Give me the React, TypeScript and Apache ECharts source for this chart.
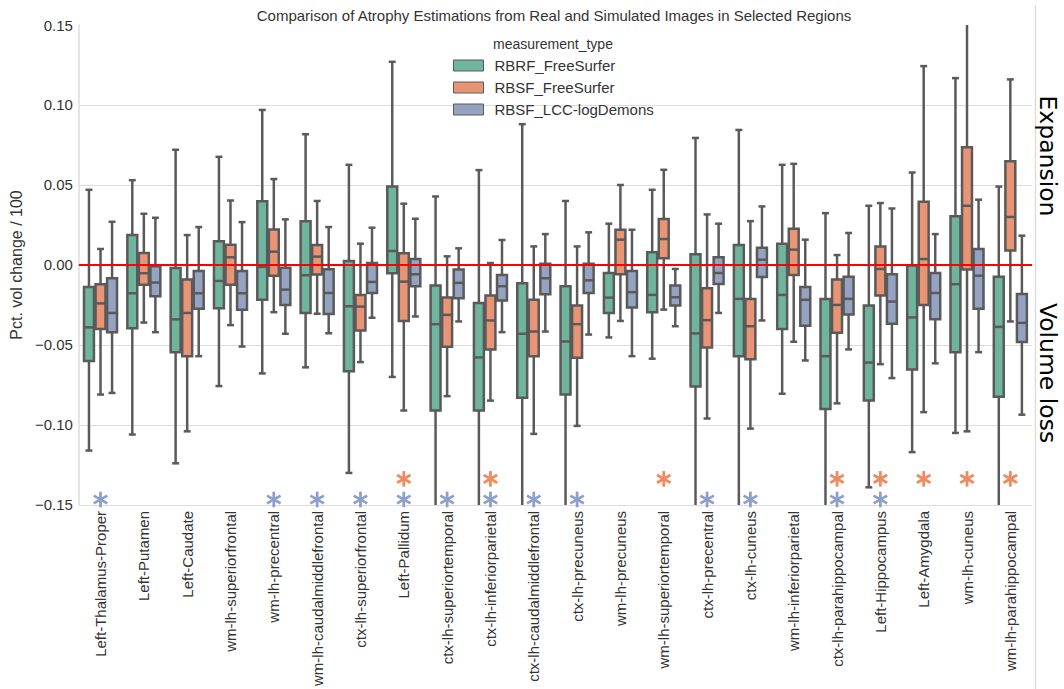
import React, { useEffect, useRef } from "react";
import * as echarts from "echarts";

const categories = [
  "Left-Thalamus-Proper", "Left-Putamen", "Left-Caudate", "wm-lh-superiorfrontal",
  "wm-lh-precentral", "wm-lh-caudalmiddlefrontal", "ctx-lh-superiorfrontal", "Left-Pallidum",
  "ctx-lh-superiortemporal", "ctx-lh-inferiorparietal", "ctx-lh-caudalmiddlefrontal", "ctx-lh-precuneus",
  "wm-lh-precuneus", "wm-lh-superiortemporal", "ctx-lh-precentral", "ctx-lh-cuneus",
  "wm-lh-inferiorparietal", "ctx-lh-parahippocampal", "Left-Hippocampus", "Left-Amygdala",
  "wm-lh-cuneus", "wm-lh-parahippocampal",
];

const seriesNames = ["RBRF_FreeSurfer", "RBSF_FreeSurfer", "RBSF_LCC-logDemons"];

// [whisker low, Q1, median, Q3, whisker high]
const rbrfFreeSurfer: number[][] = [
  [-0.116, -0.060, -0.039, -0.0137, 0.047],
  [-0.106, -0.0395, -0.0177, 0.0187, 0.053],
  [-0.124, -0.0545, -0.034, -0.0019, 0.072],
  [-0.0757, -0.027, -0.010, 0.0148, 0.0676],
  [-0.0678, -0.0218, -0.0012, 0.0399, 0.0969],
  [-0.064, -0.030, -0.0064, 0.0274, 0.0817],
  [-0.130, -0.0665, -0.0258, 0.0025, 0.0626],
  [-0.070, -0.0052, 0.0087, 0.049, 0.127],
  [-0.16, -0.0909, -0.037, -0.0129, 0.0428],
  [-0.16, -0.0909, -0.0578, -0.0237, 0.0593],
  [-0.16, -0.083, -0.043, -0.0114, 0.088],
  [-0.16, -0.081, -0.0478, -0.0133, 0.040],
  [-0.0453, -0.030, -0.0204, -0.005, 0.0258],
  [-0.0586, -0.0295, -0.0187, 0.0079, 0.047],
  [-0.16, -0.076, -0.0428, 0.0067, 0.0794],
  [-0.16, -0.057, -0.0212, 0.0125, 0.0844],
  [-0.0805, -0.040, -0.0187, 0.0133, 0.0626],
  [-0.16, -0.090, -0.057, -0.0212, 0.0324],
  [-0.139, -0.0848, -0.061, -0.0254, 0.037],
  [-0.117, -0.0653, -0.0328, -0.0004, 0.0578],
  [-0.105, -0.0545, -0.012, 0.0304, 0.1168],
  [-0.16, -0.0823, -0.0387, -0.0073, 0.049],
];

const rbsfFreeSurfer: number[][] = [
  [-0.081, -0.040, -0.024, -0.012, 0.010],
  [-0.036, -0.0123, -0.0052, 0.0075, 0.032],
  [-0.104, -0.057, -0.030, -0.0091, 0.0187],
  [-0.0376, -0.0123, 0.0048, 0.0127, 0.0403],
  [-0.0295, -0.0067, 0.0083, 0.0222, 0.0537],
  [-0.0305, -0.006, 0.0052, 0.0125, 0.040],
  [-0.0607, -0.041, -0.026, -0.0187, 0.0133],
  [-0.091, -0.035, -0.0104, 0.0073, 0.0383],
  [-0.082, -0.0511, -0.0312, -0.0204, 0.0054],
  [-0.0848, -0.0528, -0.0347, -0.0191, 0.0012],
  [-0.1056, -0.057, -0.0416, -0.0218, 0.0116],
  [-0.1006, -0.058, -0.037, -0.0254, 0.0116],
  [-0.035, -0.0058, 0.0158, 0.022, 0.050],
  [-0.0279, 0.0042, 0.0162, 0.0287, 0.0595],
  [-0.096, -0.0516, -0.0345, -0.0146, 0.0316],
  [-0.1023, -0.059, -0.0383, -0.0212, 0.0274],
  [-0.048, -0.0062, 0.0096, 0.0227, 0.0632],
  [-0.0865, -0.0424, -0.025, -0.0091, 0.0062],
  [-0.062, -0.0191, -0.0025, 0.0116, 0.0387],
  [-0.092, -0.025, 0.0037, 0.0395, 0.1243],
  [-0.104, -0.0029, 0.037, 0.0736, 0.16],
  [-0.0353, 0.0091, 0.030, 0.0649, 0.116],
];

const rbsfLogDemons: number[][] = [
  [-0.080, -0.042, -0.030, -0.0083, 0.027],
  [-0.042, -0.0196, -0.011, -0.0008, 0.0295],
  [-0.057, -0.0274, -0.0177, -0.0037, 0.0237],
  [-0.051, -0.028, -0.0177, -0.0037, 0.0268],
  [-0.043, -0.025, -0.0154, -0.0017, 0.0285],
  [-0.0427, -0.0307, -0.0175, -0.0027, 0.0237],
  [-0.033, -0.0175, -0.0106, 0.0012, 0.0233],
  [-0.0322, -0.0133, -0.0058, 0.0037, 0.0289],
  [-0.0353, -0.0208, -0.0112, -0.0029, 0.0104],
  [-0.042, -0.0222, -0.0133, -0.0062, 0.0156],
  [-0.0416, -0.0183, -0.0083, 0.0008, 0.0193],
  [-0.0435, -0.0175, -0.0096, 0.0008, 0.0204],
  [-0.057, -0.0266, -0.017, -0.0037, 0.022],
  [-0.0383, -0.0254, -0.0202, -0.0129, -0.0025],
  [-0.030, -0.0119, -0.005, 0.0048, 0.0258],
  [-0.0347, -0.0075, 0.0033, 0.0108, 0.0366],
  [-0.0597, -0.038, -0.0218, -0.0137, 0.0158],
  [-0.0528, -0.031, -0.0212, -0.0073, 0.020],
  [-0.0707, -0.0368, -0.0229, -0.0058, 0.0353],
  [-0.0615, -0.034, -0.0175, -0.005, 0.0193],
  [-0.0545, -0.0274, -0.0067, 0.010, 0.0408],
  [-0.0936, -0.0482, -0.0362, -0.0181, 0.0183],
];

// regions marked with a significance asterisk
const sigFreeSurfer = [
  "Left-Pallidum", "ctx-lh-inferiorparietal", "wm-lh-superiortemporal", "ctx-lh-parahippocampal",
  "Left-Hippocampus", "Left-Amygdala", "wm-lh-cuneus", "wm-lh-parahippocampal",
];
const sigLogDemons = [
  "Left-Thalamus-Proper", "wm-lh-precentral", "wm-lh-caudalmiddlefrontal", "ctx-lh-superiorfrontal",
  "Left-Pallidum", "ctx-lh-superiortemporal", "ctx-lh-inferiorparietal", "ctx-lh-caudalmiddlefrontal",
  "ctx-lh-precuneus", "ctx-lh-precentral", "ctx-lh-cuneus", "ctx-lh-parahippocampal", "Left-Hippocampus",
];
const starLevelFreeSurfer = -0.1337;
const starLevelLogDemons = -0.1466;

const yMin = -0.15;
const yMax = 0.15;
const yStep = 0.05;

const BOX_COLORS = ["#6fb59e", "#e99575", "#95a3c3"];
const STAR_FS = "#f08a60";
const STAR_LCC = "#8da0cb";
const EDGE = "#5a5a5a";
const FONT = "'Liberation Sans', Arial, sans-serif";

const boxRenderer = (hue: number, color: string) => (_params: any, api: any) => {
  const ci = api.value(0);
  const low = api.value(1), q1 = api.value(2), med = api.value(3), q3 = api.value(4), high = api.value(5);
  const band = api.size([1, 0])[0];
  const hueW = (band * 0.8) / 3;
  const cx = api.coord([ci, 0])[0] + (hue - 1) * hueW;
  const y = (v: number) => api.coord([ci, v])[1];
  const bw = hueW * 0.86;
  const cap = hueW * 0.3;
  const ls = { stroke: EDGE, lineWidth: 2.5 };
  return {
    type: "group",
    children: [
      { type: "line", shape: { x1: cx, y1: y(high), x2: cx, y2: y(q3) }, style: ls },
      { type: "line", shape: { x1: cx, y1: y(q1), x2: cx, y2: y(low) }, style: ls },
      { type: "line", shape: { x1: cx - cap, y1: y(high), x2: cx + cap, y2: y(high) }, style: ls },
      { type: "line", shape: { x1: cx - cap, y1: y(low), x2: cx + cap, y2: y(low) }, style: ls },
      {
        type: "rect",
        shape: { x: cx - bw / 2, y: y(q3), width: bw, height: y(q1) - y(q3) },
        style: { fill: color, stroke: EDGE, lineWidth: 2.5 },
      },
      { type: "line", shape: { x1: cx - bw / 2, y1: y(med), x2: cx + bw / 2, y2: y(med) }, style: ls },
    ],
  };
};

const starRenderer = (color: string) => (_params: any, api: any) => {
  const p = api.coord([api.value(0), api.value(1)]);
  const r = 7.8;
  const st = { stroke: color, lineWidth: 2.8 };
  return {
    type: "group",
    children: [0, 60, 120].map((a) => {
      const t = (a * Math.PI) / 180;
      const dx = r * Math.sin(t);
      const dy = r * Math.cos(t);
      return { type: "line", shape: { x1: p[0] - dx, y1: p[1] - dy, x2: p[0] + dx, y2: p[1] + dy }, style: st };
    }),
  };
};

const fmt = (v: number) => {
  const s = Math.abs(v) < 1e-9 ? "0.00" : v.toFixed(2);
  return s.replace("-", "\u2212");
};

export default function App() {
  const ref = useRef<HTMLDivElement>(null);
  useEffect(() => {
    if (!ref.current) return;
    const chart = echarts.init(ref.current, undefined, { renderer: "svg" });
    const allSeries = [rbrfFreeSurfer, rbsfFreeSurfer, rbsfLogDemons];
    const boxSeries = allSeries.map((rows, hue) => ({
      type: "custom",
      name: seriesNames[hue],
      clip: true,
      itemStyle: { color: BOX_COLORS[hue] },
      encode: { x: 0, y: [1, 2, 3, 4, 5] },
      data: rows.map((r, i) => [i, ...r]),
      renderItem: boxRenderer(hue, BOX_COLORS[hue]),
      z: 2,
      ...(hue === 2
        ? {
            markLine: {
              silent: true,
              symbol: "none",
              z: 10,
              label: { show: false },
              lineStyle: { color: "#ff0000", width: 2, type: "solid" },
              data: [{ yAxis: 0 }],
            },
          }
        : {}),
    }));
    const starSeries = [
      { names: sigFreeSurfer, level: starLevelFreeSurfer, color: STAR_FS },
      { names: sigLogDemons, level: starLevelLogDemons, color: STAR_LCC },
    ].map((s) => ({
      type: "custom",
      name: "sig",
      clip: false,
      z: 4,
      encode: { x: 0, y: 1 },
      data: s.names.map((n) => [categories.indexOf(n), s.level]),
      renderItem: starRenderer(s.color),
    }));

    chart.setOption({
      animation: false,
      backgroundColor: "#ffffff",
      textStyle: { fontFamily: FONT },
      title: [
        {
          text: "Comparison of Atrophy Estimations from Real and Simulated Images in Selected Regions",
          left: 554,
          top: 8,
          textAlign: "center",
          padding: 0,
          textStyle: { fontSize: 15, fontWeight: "normal", color: "#333333", fontFamily: FONT },
        },
        {
          text: "measurement_type",
          left: 553,
          top: 37,
          textAlign: "center",
          padding: 0,
          textStyle: { fontSize: 14, fontWeight: "normal", color: "#333333", fontFamily: FONT },
        },
      ],
      legend: {
        data: seriesNames.map((n, i) => ({
          name: n,
          itemStyle: { color: BOX_COLORS[i], borderColor: EDGE, borderWidth: 1 },
        })),
        orient: "vertical",
        left: 453,
        top: 58,
        padding: 0,
        icon: "rect",
        itemWidth: 30,
        itemHeight: 11,
        itemGap: 7,
        selectedMode: false,
        textStyle: { fontSize: 15, color: "#333333", fontFamily: FONT, lineHeight: 15, padding: [0, 0, 0, 6] },
      },
      grid: { left: 76, right: 32, top: 25, bottom: 182 },
      xAxis: {
        type: "category",
        data: categories,
        boundaryGap: true,
        axisTick: { show: false },
        axisLine: { show: true, lineStyle: { color: "#dddddd", width: 1.5 } },
        axisLabel: { interval: 0, rotate: 90, fontSize: 15, color: "#333333", margin: 6, fontFamily: FONT },
        splitLine: { show: false },
      },
      yAxis: {
        type: "value",
        min: yMin,
        max: yMax,
        interval: yStep,
        name: "Pct. vol change / 100",
        nameLocation: "middle",
        nameGap: 39,
        nameTextStyle: { fontSize: 16, color: "#333333", fontFamily: FONT },
        axisLine: { show: true, lineStyle: { color: "#dddddd", width: 1.5 } },
        axisTick: { show: false },
        axisLabel: { fontSize: 15, color: "#333333", margin: 6, formatter: fmt, fontFamily: FONT },
        splitLine: { show: true, showMaxLine: false, lineStyle: { color: "#dddddd", width: 1 } },
      },
      graphic: [
        { type: "line", shape: { x1: 1035.5, y1: 5, x2: 1035.5, y2: 689 }, style: { stroke: "#dddddd", lineWidth: 1.5 } },
        {
          type: "text",
          x: 1048,
          y: 156,
          rotation: -Math.PI / 2,
          style: { text: "Expansion", fontSize: 23.5, fill: "#000000", fontFamily: "'DejaVu Sans'", align: "center", verticalAlign: "middle" },
        },
        {
          type: "text",
          x: 1048,
          y: 373,
          rotation: -Math.PI / 2,
          style: { text: "Volume loss", fontSize: 23.5, fill: "#000000", fontFamily: "'DejaVu Sans'", align: "center", verticalAlign: "middle" },
        },
      ],
      series: [...boxSeries, ...starSeries],
    });
    return () => chart.dispose();
  }, []);
  return (
    <div
      ref={ref}
      style={{ position: "fixed", left: 0, top: 0, width: 1064, height: 689, background: "#fff" }}
    />
  );
}
